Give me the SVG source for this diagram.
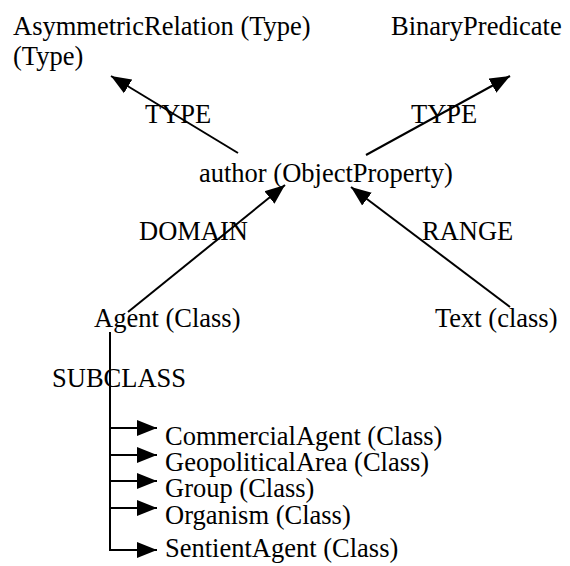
<svg xmlns="http://www.w3.org/2000/svg" width="570" height="566" viewBox="0 0 570 566">
<style>
text{font-family:"Liberation Serif","Times New Roman",serif;font-size:26.5px;fill:#000}
.c{stroke:#000;stroke-width:2;fill:none}
</style>
<defs>
<marker id="ah" markerUnits="userSpaceOnUse" markerWidth="22" markerHeight="18" viewBox="0 -9 22 18" refX="20" refY="0" orient="auto">
<path d="M0,-8 L20,0 L0,8 z" fill="#000"/>
</marker>
</defs>
<rect width="570" height="566" fill="#fff"/>
<g id="connectors">
<line class="c" x1="238" y1="153" x2="111" y2="76" marker-end="url(#ah)"/>
<line class="c" x1="366" y1="155" x2="510" y2="76" marker-end="url(#ah)"/>
<line class="c" x1="128" y1="312" x2="285" y2="185" marker-end="url(#ah)"/>
<line class="c" x1="510" y1="307" x2="351" y2="187" marker-end="url(#ah)"/>
<path class="c" d="M110,332 V550"/>
<line class="c" x1="110" y1="428" x2="157" y2="428" marker-end="url(#ah)"/>
<line class="c" x1="110" y1="455" x2="157" y2="455" marker-end="url(#ah)"/>
<line class="c" x1="110" y1="481" x2="157" y2="481" marker-end="url(#ah)"/>
<line class="c" x1="110" y1="508" x2="157" y2="508" marker-end="url(#ah)"/>
<line class="c" x1="109" y1="550" x2="157" y2="550" marker-end="url(#ah)"/>
<text x="145" y="123">TYPE</text>
<text x="411" y="123">TYPE</text>
<text x="139" y="240">DOMAIN</text>
<text x="422" y="240">RANGE</text>
<text x="52" y="387">SUBCLASS</text>
</g>
<g id="asymmetric"><text x="13" y="35">AsymmetricRelation (Type)</text><text x="13" y="65">(Type)</text></g>
<g id="binary"><text x="391" y="35">BinaryPredicate</text></g>
<g id="author"><text x="199" y="182">author (ObjectProperty)</text></g>
<g id="agent"><text x="94" y="327">Agent (Class)</text></g>
<g id="text"><text x="435" y="327">Text (class)</text></g>
<g id="commercial"><text x="165" y="445">CommercialAgent (Class)</text></g>
<g id="geopolitical"><text x="165" y="471">GeopoliticalArea (Class)</text></g>
<g id="group"><text x="165" y="497">Group (Class)</text></g>
<g id="organism"><text x="165" y="524">Organism (Class)</text></g>
<g id="sentient"><text x="165" y="557">SentientAgent (Class)</text></g>
</svg>
